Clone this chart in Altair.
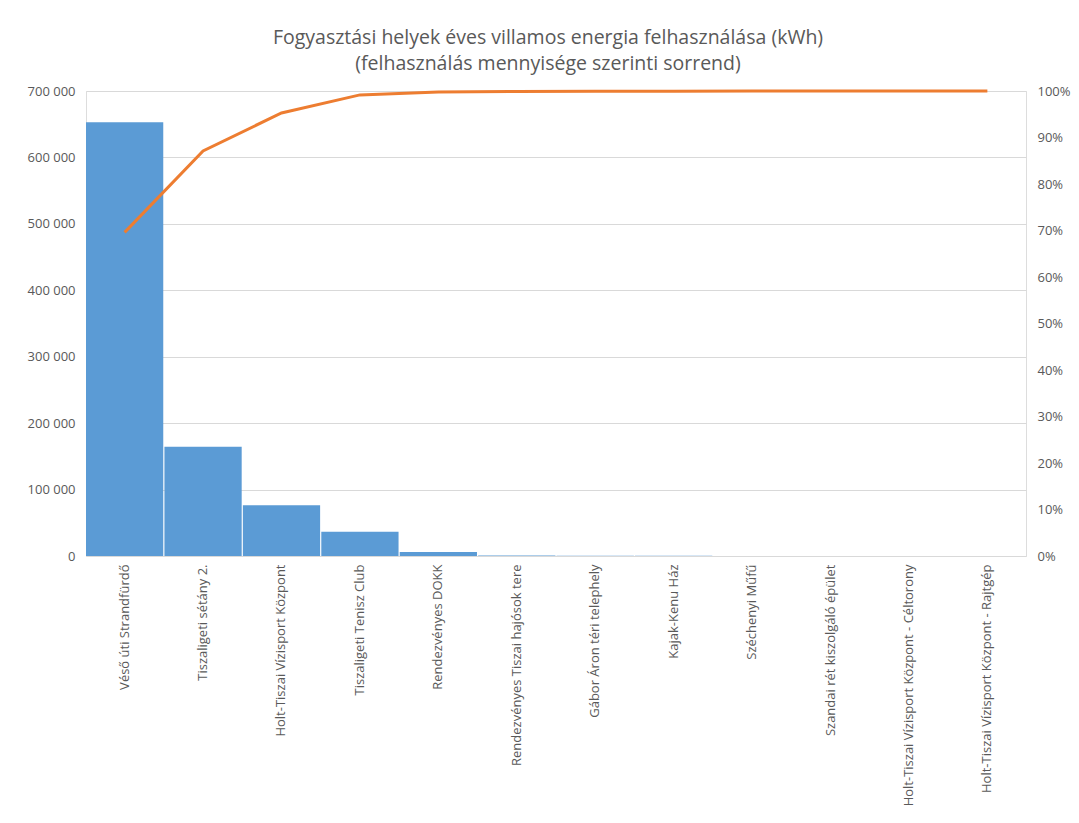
import altair as alt
import pandas as pd

categories = [
    "Véső úti Strandfürdő",
    "Tiszaligeti sétány 2.",
    "Holt-Tiszai Vízisport Központ",
    "Tiszaligeti Tenisz Club",
    "Rendezvényes DOKK",
    "Rendezvényes Tiszai hajósok tere",
    "Gábor Áron téri telephely",
    "Kajak-Kenu Ház",
    "Széchenyi Műfű",
    "Szandai rét kiszolgáló épület",
    "Holt-Tiszai Vízisport Központ - Céltorony",
    "Holt-Tiszai Vízisport Központ - Rajtgép",
]
usage_kwh = [653000, 164500, 76500, 36500, 6000, 800, 450, 300, 150, 80, 40, 20]

df = pd.DataFrame({"hely": categories, "kwh": usage_kwh})
total = df["kwh"].sum()
df["cum"] = df["kwh"].cumsum() / total

FONT = "Open Sans"
GRAY = "#595959"

x_enc = alt.X(
    "hely:N",
    sort=categories,
    scale=alt.Scale(paddingInner=0.015, paddingOuter=0),
    axis=alt.Axis(
        title=None, labelAngle=-90, labelPadding=8, labelLimit=400,
        ticks=False, domain=False, labelFontSize=13, labelColor=GRAY, labelFont=FONT,
    ),
)

bars = alt.Chart(df).mark_bar(color="#5B9BD5").encode(
    x=x_enc,
    y=alt.Y(
        "kwh:Q",
        scale=alt.Scale(domain=[0, 700000], nice=False),
        axis=alt.Axis(
            title=None, values=[0, 100000, 200000, 300000, 400000, 500000, 600000, 700000],
            labelExpr="replace(format(datum.value, ','), ',', ' ')",
            grid=True, gridColor="#D9D9D9", ticks=False, domain=False,
            labelPadding=11, labelFontSize=13, labelColor=GRAY, labelFont=FONT,
        ),
    ),
)

line = alt.Chart(df).mark_line(color="#ED7D31", strokeWidth=3).encode(
    x=x_enc,
    y=alt.Y(
        "cum:Q",
        scale=alt.Scale(domain=[0, 1], nice=False),
        axis=alt.Axis(
            title=None, orient="right", format="%",
            values=[0, 0.1, 0.2, 0.3, 0.4, 0.5, 0.6, 0.7, 0.8, 0.9, 1.0],
            grid=False, ticks=False, domain=False,
            labelPadding=11, labelFontSize=13, labelColor=GRAY, labelFont=FONT,
        ),
    ),
)

chart = (
    alt.layer(bars, line)
    .resolve_scale(y="independent")
    .properties(
        width=940,
        height=465,
        autosize=alt.AutoSizeParams(type="none"),
        padding={"left": 78, "top": 83, "right": 45, "bottom": 255},
        title=alt.TitleParams(
            text=[
                "Fogyasztási helyek éves villamos energia felhasználása (kWh)",
                "(felhasználás mennyisége szerinti sorrend)",
            ],
            font=FONT, fontSize=19.5, fontWeight="normal", color=GRAY,
            lineHeight=26, anchor="middle", offset=11, dx=-8,
        ),
    )
    .configure_view(stroke="#D9D9D9")
    .configure(background="white")
)

chart.save("out.html", embed_options={"renderer": "svg", "actions": False})
